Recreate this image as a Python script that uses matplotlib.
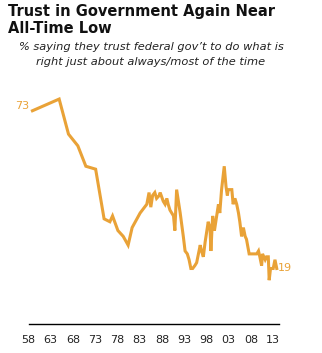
import matplotlib
matplotlib.use('Agg')
import matplotlib.pyplot as plt

# survey dates (fractional year) and share who trust the government (%)
years = [1958.1, 1964.1, 1966.2, 1968.3, 1970.1, 1972.3, 1974.2, 1975.5, 1976.1,
         1977.3, 1978.5, 1979.6, 1980.5, 1982.3, 1983.8, 1984.3, 1984.7, 1985.1,
         1985.6, 1986.0, 1986.6, 1986.8, 1987.5, 1987.9, 1988.3, 1988.6, 1989.0,
         1989.8, 1990.1, 1990.5, 1991.3, 1992.0, 1992.4, 1992.9, 1993.3, 1993.7,
         1994.1, 1994.6, 1995.0, 1995.8, 1996.1, 1996.5, 1996.9, 1997.6, 1998.0,
         1998.2, 1998.6, 1999.0, 1999.3, 1999.9, 2000.2, 2000.6, 2001.2, 2001.6,
         2001.9, 2002.1, 2002.9, 2003.2, 2003.6, 2004.0, 2004.4, 2004.7, 2005.1,
         2005.5, 2005.9, 2006.2, 2006.8, 2007.7, 2008.5, 2008.9, 2009.2, 2009.6,
         2009.8, 2010.4, 2010.7, 2011.1, 2011.3, 2011.6, 2012.2, 2012.6, 2013.0]
trust = [73, 77, 65, 61, 54, 53, 36, 35, 37,
         32, 30, 27, 33, 38, 41, 45, 40, 44,
         45, 43, 44, 45, 42, 41, 43, 41, 39,
         37, 32, 46, 38, 30, 25, 24, 22, 19,
         19, 20, 21, 27, 25, 23, 28, 35, 33,
         25, 37, 32, 35, 41, 38, 46, 54, 47,
         44, 46, 46, 41, 43, 41, 38, 35, 30,
         33, 30, 29, 24, 24, 24, 25, 23, 20,
         24, 22, 23, 23, 15, 19, 19, 22, 19]
tick_years = [1958, 1963, 1968, 1973, 1978, 1983, 1988, 1993, 1998, 2003, 2008, 2013]
tick_labels = ['58', '63', '68', '73', '78', '83', '88', '93', '98', '03', '08', '13']

orange = '#E9A237'

# 1958 sits at x=32px, 4.45 px per year
x0, x1 = 1955.5, 2015.0
left = (32 - (1958 - x0) * 4.45) / 322
width = (x1 - x0) * 4.45 / 322

fig = plt.figure(figsize=(3.22, 3.53), dpi=100)
ax = fig.add_axes([left, 29 / 353, width, 233.7 / 353])
ax.plot(years, trust, color=orange, lw=2.2, solid_joinstyle='miter')
ax.set_xlim(x0, x1)
ax.set_ylim(0, 80)

for s in ['top', 'right', 'left']:
    ax.spines[s].set_visible(False)
ax.spines['bottom'].set_linewidth(1.0)
ax.spines['bottom'].set_bounds(1957.33, 2013.5)
ax.set_yticks([])
ax.set_xticks([y - 0.8 for y in tick_years])
ax.set_xticklabels(tick_labels, fontsize=8, color='#222222')
ax.tick_params(axis='x', length=0, pad=8)

ax.annotate(str(trust[0]), xy=(years[0], trust[0]), xytext=(-2, 0),
            textcoords='offset points', ha='right', va='bottom',
            fontsize=8, color=orange)
ax.annotate(str(trust[-1]), xy=(years[-1], trust[-1]), xytext=(1, 0),
            textcoords='offset points', ha='left', va='center',
            fontsize=8, color=orange)

fig.text(8 / 322, 1 - 4 / 353, 'Trust in Government Again Near\nAll-Time Low',
         ha='left', va='top', fontsize=10.5, fontweight='bold',
         color='#111111', linespacing=1.15)
fig.text(151 / 322, 1 - 42 / 353,
         '% saying they trust federal gov\u2019t to do what is\nright just about always/most of the time',
         ha='center', va='top', fontsize=8.2, style='italic',
         color='#222222', linespacing=1.6)

fig.savefig('out.png', dpi=100)
